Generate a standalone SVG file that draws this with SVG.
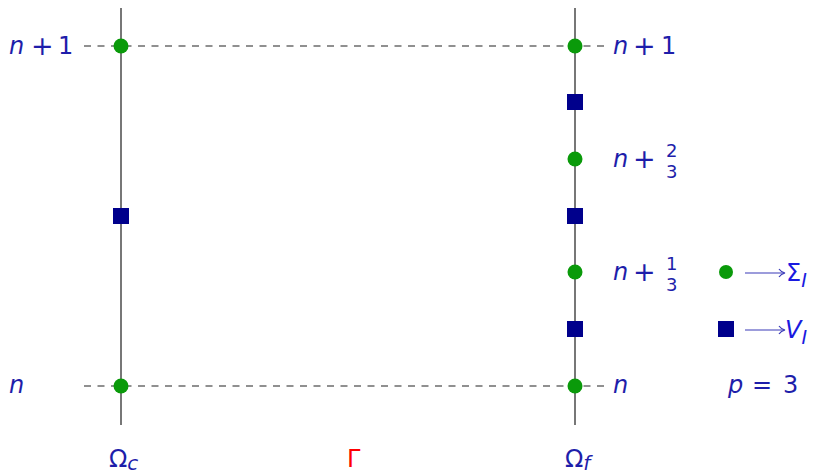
<svg xmlns="http://www.w3.org/2000/svg" width="818" height="476" viewBox="0 0 818 476">
<style>
.vl{stroke:#555;stroke-width:1.6;fill:none}
.dl{stroke:#222;stroke-width:1.2;stroke-dasharray:7 6.5;fill:none}
.dot{fill:#0a9a0a}
.sq{fill:#00008c}
text{font-family:"DejaVu Sans","Liberation Sans",sans-serif;font-size:24px;fill:#1e1eaa}
.it{font-style:italic}
.pl{font-size:27px}
.fr{font-size:18px}
.lg{fill:#1a1ae0}
.ar{stroke:#3a3ab8;stroke-width:1.2;fill:none}
</style>
<rect width="818" height="476" fill="#fff"/>
<g id="connectors">
<line class="vl" x1="121" y1="8" x2="121" y2="425"/>
<line class="vl" x1="575" y1="8" x2="575" y2="425"/>
<line class="dl" x1="84" y1="46" x2="608" y2="46"/>
<line class="dl" x1="84" y1="386" x2="608" y2="386"/>
</g>
<g id="left-n1"><circle class="dot" cx="121" cy="46" r="7.5"/></g>
<g id="left-n"><circle class="dot" cx="121" cy="386" r="7.5"/></g>
<g id="left-v"><rect class="sq" x="113" y="208" width="16" height="16"/></g>
<g id="right-n1"><circle class="dot" cx="575" cy="46" r="7.5"/></g>
<g id="right-v3"><rect class="sq" x="567" y="94" width="16" height="16"/></g>
<g id="right-n23"><circle class="dot" cx="575" cy="159" r="7.5"/></g>
<g id="right-v2"><rect class="sq" x="567" y="208" width="16" height="16"/></g>
<g id="right-n13"><circle class="dot" cx="575" cy="272" r="7.5"/></g>
<g id="right-v1"><rect class="sq" x="567" y="321" width="16" height="16"/></g>
<g id="right-n"><circle class="dot" cx="575" cy="386" r="7.5"/></g>
<g id="labels">
<text y="54"><tspan x="9" class="it">n</tspan><tspan x="31" y="55" class="pl">+</tspan><tspan x="58" y="54">1</tspan></text>
<text x="9" y="393" class="it">n</text>
<text y="54"><tspan x="613" class="it">n</tspan><tspan x="633" y="55" class="pl">+</tspan><tspan x="661" y="54">1</tspan></text>
<text x="613" y="393" class="it">n</text>
<text y="167"><tspan x="613" class="it">n</tspan><tspan x="633" y="168" class="pl">+</tspan></text>
<text x="666" y="157" class="fr">2</text>
<text x="666" y="178" class="fr">3</text>
<text y="280"><tspan x="613" class="it">n</tspan><tspan x="633" y="281" class="pl">+</tspan></text>
<text x="666" y="270" class="fr">1</text>
<text x="666" y="291" class="fr">3</text>
<text x="109" y="467" font-size="28">Ω<tspan class="it" font-size="20" dy="3">c</tspan></text>
<text x="347" y="467" font-size="28" style="fill:#ff0000">Γ</text>
<text x="565" y="467" font-size="28">Ω<tspan class="it" font-size="20" dy="3">f</tspan></text>
</g>
<g id="legend">
<circle class="dot" cx="726" cy="272" r="7"/>
<rect class="sq" x="718" y="321" width="16" height="16"/>
<line class="ar" x1="745" y1="273" x2="784" y2="273"/>
<path class="ar" d="M779 269 Q781 272 785 273 Q781 274 779 277"/>
<text x="786" y="281" class="lg" font-size="25">Σ<tspan class="it" font-size="19" dy="6">I</tspan></text>
<line class="ar" x1="745" y1="330" x2="784" y2="330"/>
<path class="ar" d="M779 326 Q781 329 785 330 Q781 331 779 334"/>
<text x="785" y="338" class="it lg" font-size="25">V<tspan font-size="19" dy="6">I</tspan></text>
<text y="393"><tspan x="728" class="it">p</tspan><tspan x="752">=</tspan><tspan x="783">3</tspan></text>
</g>
</svg>
